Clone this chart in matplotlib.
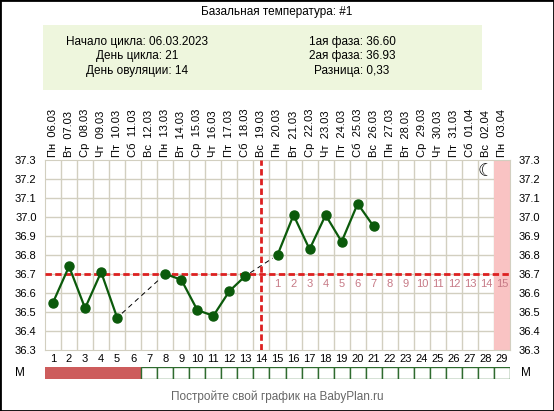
import numpy as np
import matplotlib
matplotlib.use("Agg")
import matplotlib.pyplot as plt
from matplotlib.patches import Rectangle
import matplotlib.transforms as mtransforms

plt.rcParams['font.family'] = ['Liberation Sans', 'DejaVu Sans']

# chart data
days = list(range(1, 30))
weekdays = ["Пн", "Вт", "Ср", "Чт", "Пт", "Сб", "Вс"] * 4 + ["Пн"]
dates = ["06.03", "07.03", "08.03", "09.03", "10.03", "11.03", "12.03",
         "13.03", "14.03", "15.03", "16.03", "17.03", "18.03", "19.03",
         "20.03", "21.03", "22.03", "23.03", "24.03", "25.03", "26.03",
         "27.03", "28.03", "29.03", "30.03", "31.03", "01.04", "02.04", "03.04"]
temps = [36.55, 36.74, 36.52, 36.71, 36.47, None, None,
         36.70, 36.67, 36.51, 36.48, 36.61, 36.69, None,
         36.80, 37.01, 36.83, 37.01, 36.87, 37.07, 36.95]
coverline = 36.7
ovulation_day = 14
period_days = [1, 2, 3, 4, 5, 6]
next_period_day = 29
moon_day = 28
luteal_numbers = list(range(1, 16))  # days 15..29

title = "Базальная температура: #1"
info_left = ["Начало цикла: 06.03.2023", "День цикла: 21", "День овуляции: 14"]
info_right = ["1ая фаза: 36.60", "2ая фаза: 36.93", "Разница: 0,33"]
footer = "Постройте свой график на BabyPlan.ru"

W, H = 554, 411
fig = plt.figure(figsize=(W / 100, H / 100), dpi=100)

def box(x0, y0, x1, y1):
    # pixel box (top-left origin) -> figure fraction rect
    return [x0 / W, 1 - y1 / H, (x1 - x0) / W, (y1 - y0) / H]

# outer frame
fig.add_artist(Rectangle((0, 0), 1, 1, transform=fig.transFigure, fill=False,
                         edgecolor="black", linewidth=2))

fig.text(277 / W, 1 - 12 / H, title, ha="center", va="center", fontsize=8.5)

# info panel
fig.add_artist(Rectangle((43 / W, 1 - 90 / H), (482 - 43) / W, 65 / H,
                         transform=fig.transFigure, facecolor="#eef6dd", edgecolor="none"))
for i, s in enumerate(info_left):
    fig.text(137 / W, 1 - (42 + i * 14.5) / H, s, ha="center", va="center", fontsize=8.5)
for i, s in enumerate(info_right):
    fig.text(352 / W, 1 - (42 + i * 14.5) / H, s, ha="center", va="center", fontsize=8.5)

ax = fig.add_axes(box(45, 160, 510, 350))
ax.set_xlim(0.5, 29.5)
ax.set_ylim(36.3, 37.3)

grid_c = "#d2cfc0"
for x in np.arange(1.5, 29.5, 1):
    ax.axvline(x, color=grid_c, linewidth=1, zorder=0)
for y in np.arange(36.4, 37.25, 0.1):
    ax.axhline(y, color=grid_c, linewidth=1, zorder=0)
for sp in ax.spines.values():
    sp.set_color(grid_c)

ax.axvspan(next_period_day - 0.5, next_period_day + 0.5, color="#f9c3c3", zorder=0.5, linewidth=0)

ax.axhline(coverline, color="#dd2020", linewidth=2, linestyle=(0, (2.3, 1.2)), zorder=3)
ax.axvline(ovulation_day, color="#dd2020", linewidth=2, linestyle=(0, (2.3, 1.2)), zorder=3)

# temperature line, split on missing days
seg_x, seg_y = [], []
for d, t in zip(days, temps):
    if t is None:
        if seg_x:
            ax.plot(seg_x, seg_y, color="#0b5a0b", linewidth=1.6, marker="o",
                    markersize=6.5, zorder=4)
        seg_x, seg_y = [], []
    else:
        seg_x.append(d)
        seg_y.append(t)
if seg_x:
    ax.plot(seg_x, seg_y, color="#0b5a0b", linewidth=1.6, marker="o",
            markersize=6.5, zorder=4)

# dashed connectors over gaps
known = [(d, t) for d, t in zip(days, temps) if t is not None]
for (d0, t0), (d1, t1) in zip(known[:-1], known[1:]):
    if d1 - d0 > 1:
        ax.plot([d0 + 0.3, d1 - 0.3],
                [t0 + (t1 - t0) * 0.3 / (d1 - d0), t1 - (t1 - t0) * 0.3 / (d1 - d0)],
                color="black", linewidth=0.7, linestyle=(0, (5, 4)), zorder=2)

for i, n in enumerate(luteal_numbers):
    ax.text(ovulation_day + 1 + i, 36.65, str(n), ha="center", va="center",
            fontsize=8, color="#c77a86", zorder=5)

ax.text(moon_day, 37.24, "☾", ha="center", va="center", fontsize=13,
        family=["DejaVu Sans"], zorder=5)

yt = np.round(np.arange(36.3, 37.31, 0.1), 1)
ax.set_yticks(yt)
ax.set_yticklabels([f"{v:.1f}" for v in yt])
ax.tick_params(axis="y", length=0, labelsize=8, pad=6, labelright=True)
ax.set_xticks(days)
ax.set_xticklabels([str(d) for d in days])
ax.tick_params(axis="x", length=0, labelsize=8, pad=3)

trans = mtransforms.blended_transform_factory(ax.transData, ax.transAxes)
for d, wd, dt in zip(days, weekdays, dates):
    ax.text(d, 1.016, f"{wd}  {dt}", transform=trans, rotation=90,
            ha="center", va="bottom", fontsize=8)

# menstruation row
mx = fig.add_axes(box(45, 367, 510, 379))
mx.set_xlim(0.5, 29.5)
mx.set_ylim(0, 1)
mx.axis("off")
for d in days:
    if d in period_days:
        mx.add_patch(Rectangle((d - 0.5, 0), 1, 1, facecolor="#cd5c5c",
                               edgecolor="none"))
    else:
        mx.add_patch(Rectangle((d - 0.5, 0), 1, 1, facecolor="white",
                               edgecolor="#2e6b2e", linewidth=1))
fig.text(20 / W, 1 - 373 / H, "M", ha="center", va="center", fontsize=8.5)
fig.text(526 / W, 1 - 373 / H, "M", ha="center", va="center", fontsize=8.5)

fig.text(277 / W, 1 - 397 / H, footer, ha="center", va="center",
         fontsize=8.5, color="#666666")

fig.savefig("out.png", dpi=100)
